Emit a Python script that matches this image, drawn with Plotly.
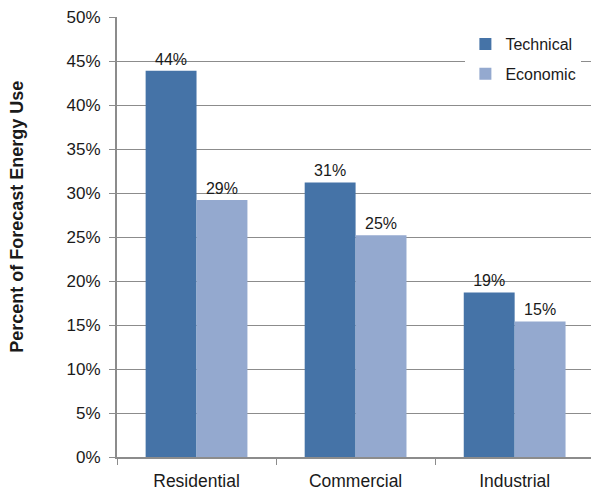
import plotly.graph_objects as go

sectors = ["Residential", "Commercial", "Industrial"]
technical = [0.439, 0.312, 0.187]
economic = [0.292, 0.252, 0.154]
y_ticks = [0, 0.05, 0.10, 0.15, 0.20, 0.25, 0.30, 0.35, 0.40, 0.45, 0.50]

FONT = "Liberation Sans, Arial, sans-serif"
GRID = "#8c8c8c"
TEXT = "#1a1a1a"

fig = go.Figure()
fig.add_trace(go.Bar(
    name="Technical", x=sectors, y=technical, legendgroup="t",
    marker=dict(color="#4573a7", line=dict(width=0)),
    texttemplate="%{y:.0%}", textposition="outside",
    textfont=dict(size=16, color=TEXT, family=FONT),
    cliponaxis=False,
))
fig.add_trace(go.Bar(
    name="Economic", x=sectors, y=economic, legendgroup="e",
    marker=dict(color="#94a9cf", line=dict(width=0)),
    texttemplate="%{y:.0%}", textposition="outside",
    textfont=dict(size=16, color=TEXT, family=FONT),
    cliponaxis=False,
))

fig.update_layout(
    width=591, height=491,
    margin=dict(l=117, r=0, t=17, b=31),
    paper_bgcolor="white", plot_bgcolor="white",
    barmode="group", bargap=0.36, bargroupgap=0,
    font=dict(family=FONT, color=TEXT),
    showlegend=True,
    legend=dict(
        x=0.735, y=0.977, xanchor="left", yanchor="top",
        bgcolor="white", font=dict(size=16, family=FONT),
        itemwidth=30, tracegroupgap=6,
    ),
    xaxis=dict(
        range=[-0.5, 2.48],
        showline=True, linecolor=GRID, linewidth=2,
        ticks="outside", tickson="boundaries", ticklen=6,
        tickcolor=GRID, tickwidth=1,
        tickfont=dict(size=17.5, family=FONT, color=TEXT),
        ticklabelstandoff=7,
        showgrid=False,
    ),
    yaxis=dict(
        range=[0, 0.5], tickvals=y_ticks, tickformat=".0%",
        showline=True, linecolor=GRID, linewidth=2,
        ticks="outside", ticklen=6, tickcolor=GRID, tickwidth=1,
        showgrid=True, gridcolor=GRID, gridwidth=1,
        tickfont=dict(size=17, family=FONT, color=TEXT),
        ticklabelstandoff=5,
        zeroline=False,
    ),
    annotations=[dict(
        text="<b>Percent of Forecast Energy Use</b>",
        xref="paper", yref="paper", x=-0.21, y=0.547,
        xanchor="center", yanchor="middle", textangle=-90,
        showarrow=False, font=dict(size=18, family=FONT, color=TEXT),
    )],
)

fig.write_html("out.html")
